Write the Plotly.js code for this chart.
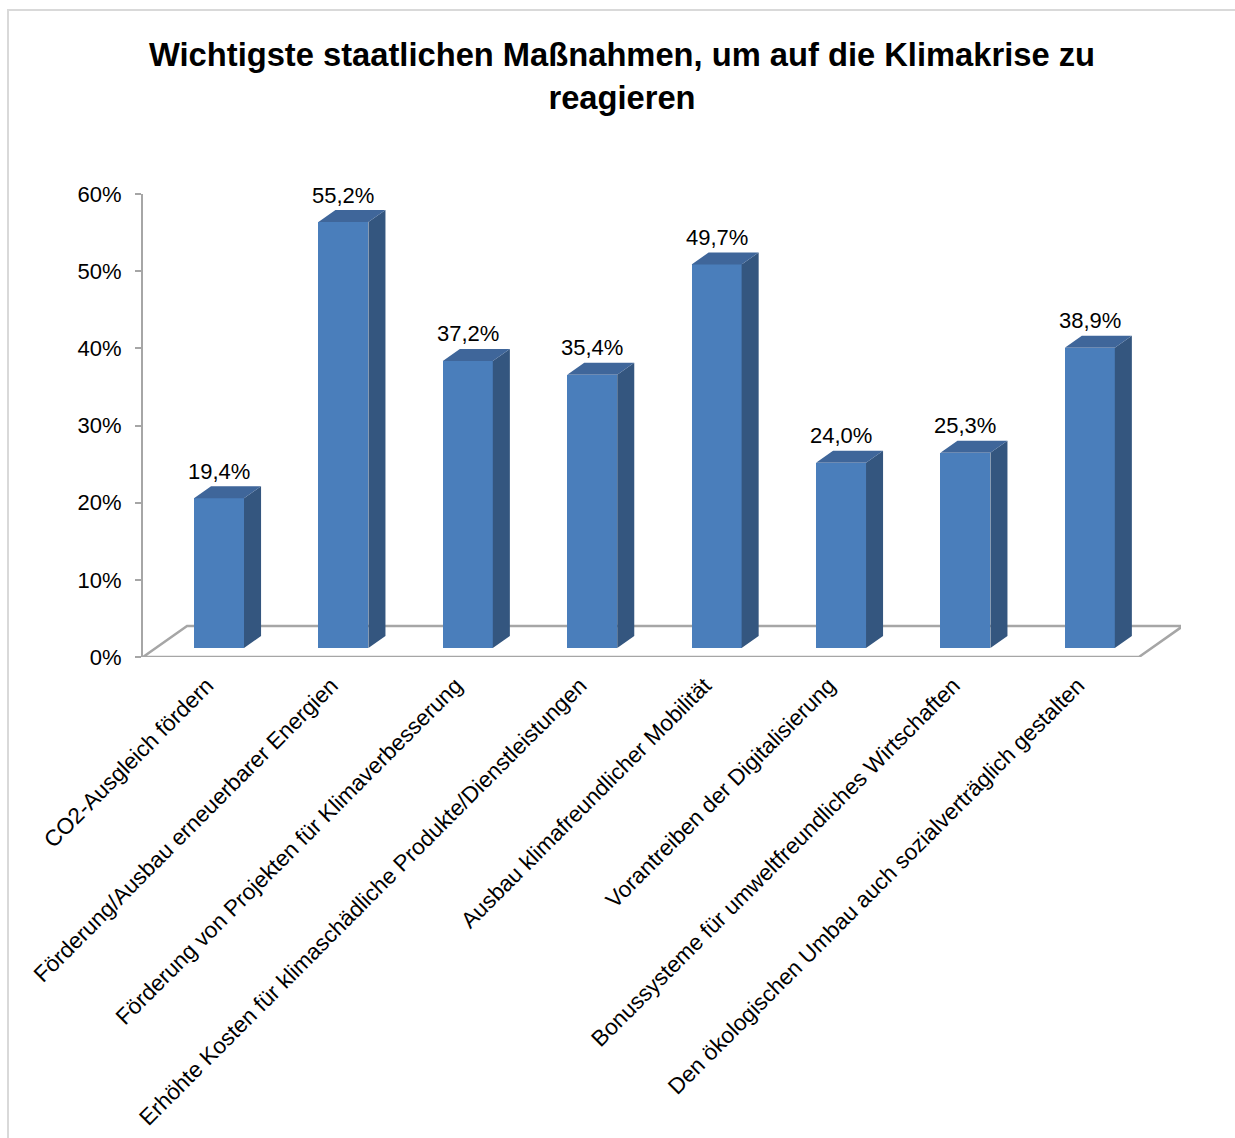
<!DOCTYPE html>
<html>
<head>
<meta charset="utf-8">
<script src="https://cdn.plot.ly/plotly-3.0.1.min.js"></script>
<style>html,body{margin:0;padding:0;background:#fff;}#chart{width:1235px;height:1138px;}</style>
</head>
<body>
<div id="chart"></div>
<script>
// ---- data ----
const categories = [
  'CO2-Ausgleich fördern',
  'Förderung/Ausbau erneuerbarer Energien',
  'Förderung von Projekten für Klimaverbesserung',
  'Erhöhte Kosten für klimaschädliche Produkte/Dienstleistungen',
  'Ausbau klimafreundlicher Mobilität',
  'Vorantreiben der Digitalisierung',
  'Bonussysteme für umweltfreundliches Wirtschaften',
  'Den ökologischen Umbau auch sozialverträglich gestalten'
];
const values = [19.4, 55.2, 37.2, 35.4, 49.7, 24.0, 25.3, 38.9];
const yTickVals = [0, 10, 20, 30, 40, 50, 60];
const yTickText = ['0%', '10%', '20%', '30%', '40%', '50%', '60%'];
const chartTitle = 'Wichtigste staatlichen Maßnahmen, um auf die Klimakrise zu<br>reagieren';

// ---- layout / style constants ----
const W = 1235, H = 1138;
const M = {l: 143, r: 54, t: 194, b: 481};
const plotW = W - M.l - M.r, plotH = H - M.t - M.b;
const XR = [-0.611, 7.733], YR = [0, 60];
const BAR_W = 0.402;      // bar width in category units
const DX = 0.137;         // 3D depth offset (x units)
const DY = 1.555;         // 3D depth offset (y units)
const BASE = 1.166;       // front face floor level
const FLOOR_DX = 0.354, FLOOR_DY = 4.02;
const FRONT = '#4A7EBB', SIDE = '#34567F', TOPC = '#3F669A';
const FONT = 'Liberation Sans, Arial, sans-serif';

const idx = categories.map((_, i) => i);
const fmt = v => v.toFixed(1).replace('.', ',') + '%';

// front faces
const frontTrace = {
  type: 'bar', x: idx, y: values, base: idx.map(() => BASE), width: BAR_W,
  marker: {color: FRONT, line: {width: 0}}, hoverinfo: 'skip', showlegend: false
};
// side and top faces
const sx = [], sy = [], tx = [], ty = [];
idx.forEach(i => {
  const v = values[i], r = i + BAR_W / 2, l = i - BAR_W / 2;
  sx.push(r, r + DX, r + DX, r, r, null);
  sy.push(BASE, BASE + DY, BASE + v + DY, BASE + v, BASE, null);
  tx.push(l, r, r + DX, l + DX, l, null);
  ty.push(BASE + v, BASE + v, BASE + v + DY, BASE + v + DY, BASE + v, null);
});
const sideTrace = {type: 'scatter', x: sx, y: sy, mode: 'lines', fill: 'toself', fillcolor: SIDE,
  line: {width: 0, color: SIDE}, hoverinfo: 'skip', showlegend: false, connectgaps: false};
const topTrace = {type: 'scatter', x: tx, y: ty, mode: 'lines', fill: 'toself', fillcolor: TOPC,
  line: {width: 0, color: TOPC}, hoverinfo: 'skip', showlegend: false, connectgaps: false};

// floor outline (data coords)
const fL = XR[0], fR = (categories.length - 1) + 0.395;
const floorPath = `M ${fL},0 L ${fR},0 L ${fR + FLOOR_DX},${FLOOR_DY} L ${fL + FLOOR_DX},${FLOOR_DY} Z`;

// outer border (paper coords from pixels)
const px2x = p => (p - M.l) / plotW, py2y = p => (H - M.b - p) / plotH;

const annotations = idx.map(i => ({
  x: i, y: BASE + values[i], text: fmt(values[i]), showarrow: false,
  xref: 'x', yref: 'y', yanchor: 'middle', yshift: 27,
  font: {family: FONT, size: 22, color: '#000'}
}));

const layout = {
  width: W, height: H, margin: M,
  paper_bgcolor: '#fff', plot_bgcolor: 'rgba(0,0,0,0)',
  separators: ',.',
  title: {text: chartTitle, x: 622 / W, xanchor: 'center', xref: 'container',
    y: 1 - 66 / H, yanchor: 'top', yref: 'container',
    font: {family: FONT, size: 32.7, color: '#000', weight: 'bold'}},
  xaxis: {range: XR, tickmode: 'array', tickvals: idx, ticktext: categories,
    tickangle: -45, showgrid: false, zeroline: false, showline: false, ticks: '',
    ticklabelstandoff: 10, ticklabelshift: -12,
    tickfont: {family: FONT, size: 22.5, color: '#000'}, automargin: false, fixedrange: true},
  yaxis: {range: YR, tickmode: 'array', tickvals: yTickVals, ticktext: yTickText,
    showgrid: false, zeroline: false, showline: true, linecolor: '#A6A6A6', linewidth: 2,
    ticks: 'outside', ticklen: 6, tickwidth: 2, tickcolor: '#A6A6A6', ticklabelstandoff: 9,
    tickfont: {family: FONT, size: 22, color: '#000'}, automargin: false, fixedrange: true},
  shapes: [
    {type: 'path', path: floorPath, xref: 'x', yref: 'y', layer: 'below',
      line: {color: '#A6A6A6', width: 2.5}},
    {type: 'rect', xref: 'paper', yref: 'paper', x0: px2x(8), x1: px2x(W + 10),
      y0: py2y(H + 10), y1: py2y(10), layer: 'below', line: {color: '#D9D9D9', width: 2}}
  ],
  annotations: annotations,
  bargap: 0, showlegend: false
};

Plotly.newPlot('chart', [frontTrace, sideTrace, topTrace], layout, {displayModeBar: false, staticPlot: true});
</script>
</body>
</html>
